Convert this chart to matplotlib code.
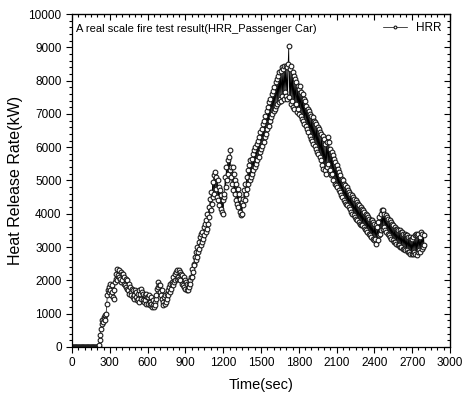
import matplotlib
matplotlib.use('Agg')
import matplotlib.pyplot as plt
from matplotlib.ticker import MultipleLocator
import numpy as np

# time step of the logged HRR samples (sec)
step = 5

hrr = [
    # 0 - 195
    0, 0, 0, 0, 0, 0, 0, 0, 0, 0, 0, 0, 0, 0, 0, 0, 0, 0, 0, 0,
    0, 0, 0, 0, 0, 0, 0, 0, 0, 0, 0, 0, 0, 0, 0, 0, 0, 0, 0, 0,
    # 200 - 295
    0, 0, 0, 50, 200, 350, 550, 700, 800, 750,
    900, 850, 950, 800, 1000, 1300, 1550, 1700, 1800, 1650,
    # 300 - 395
    1700, 1900, 1550, 1850, 1650, 1500, 1450, 1700, 1950, 2050,
    2200, 2000, 2350, 2150, 2100, 2300, 2050, 2250, 1950, 2200,
    # 400 - 495
    2000, 2200, 1900, 2100, 1850, 2050, 1800, 2000, 1750, 1700,
    1900, 1600, 1800, 1650, 1550, 1750, 1500, 1700, 1550, 1450,
    # 500 - 595
    1700, 1500, 1650, 1400, 1600, 1450, 1700, 1350, 1600, 1750,
    1450, 1650, 1400, 1600, 1350, 1550, 1400, 1600, 1300, 1500,
    # 600 - 695
    1500, 1300, 1550, 1350, 1250, 1500, 1300, 1200, 1400, 1250,
    1200, 1350, 1250, 1450, 1550, 1750, 1800, 1950, 1850, 1650,
    # 700 - 795
    1850, 1550, 1450, 1700, 1350, 1250, 1500, 1300, 1550, 1350,
    1600, 1450, 1700, 1550, 1800, 1650, 1900, 1750, 1950, 1900,
    # 800 - 895
    1850, 2100, 1950, 2200, 2000, 2250, 2050, 2300, 2100, 2300,
    2050, 2250, 2000, 2200, 1900, 2150, 1850, 2100, 1800, 2000,
    # 900 - 995
    1750, 1950, 1700, 1900, 1700, 1900, 1800, 2000, 1900, 2100,
    2100, 2350, 2250, 2500, 2450, 2700, 2600, 2850, 2700, 3000,
    # 1000 - 1095
    2850, 3150, 2950, 3300, 3050, 3400, 3150, 3450, 3250, 3600,
    3350, 3700, 3450, 3800, 3550, 4000, 3700, 4200, 3900, 4450,
    # 1100 - 1195
    4100, 4650, 4300, 4950, 4500, 5150, 4600, 5250, 4750, 5100,
    4500, 5000, 4400, 4800, 4250, 4700, 4150, 4550, 4050, 4400,
    # 1200 - 1295
    4000, 4500, 4600, 5100, 4800, 5400, 5000, 5600, 5200, 5700,
    5300, 5900, 5400, 5100, 4900, 5400, 4700, 5200, 4600, 5000,
    # 1300 - 1395
    4400, 4900, 4300, 4750, 4200, 4600, 4050, 4450, 3950, 4350,
    4000, 4450, 4250, 4700, 4400, 4900, 4600, 5100, 4750, 5300,
    # 1400 - 1495
    4900, 5450, 5000, 5600, 5100, 5650, 5200, 5800, 5300, 5900,
    5400, 6000, 5500, 6100, 5600, 6200, 5700, 6300, 5850, 6450,
    # 1500 - 1595
    5950, 6550, 6050, 6700, 6150, 6800, 6300, 6950, 6400, 7100,
    6550, 7200, 6650, 7350, 6800, 7450, 6900, 7600, 7000, 7700,
    # 1600 - 1695
    7100, 7800, 7150, 7950, 7250, 8050, 7300, 8150, 7350, 8250,
    7450, 8300, 7400, 8400, 7550, 8350, 7450, 8450, 7650, 8450,
    # 1700 - 1795
    7550, 8400, 7450, 8500, 9050, 7500, 8350, 7300, 8450, 7400,
    8250, 7200, 8150, 7150, 8050, 7300, 7950, 7050, 7850, 7150,
    # 1800 - 1895
    7750, 7000, 7850, 6950, 7650, 6850, 7600, 6800, 7450, 6700,
    7400, 6650, 7250, 6550, 7150, 6450, 7100, 6350, 7000, 6250,
    # 1900 - 1995
    6950, 6200, 6900, 6100, 6800, 6050, 6750, 5950, 6700, 5850,
    6600, 5800, 6550, 5700, 6450, 5600, 6400, 5450, 6350, 5350,
    # 2000 - 2095
    6250, 5300, 6100, 5200, 6150, 5400, 6300, 5500, 6150, 5300,
    5950, 5150, 5850, 5200, 5750, 5000, 5650, 4900, 5550, 4850,
    # 2100 - 2195
    5450, 4800, 5350, 4700, 5250, 4650, 5150, 4550, 5050, 4500,
    5000, 4400, 4900, 4350, 4850, 4300, 4800, 4250, 4700, 4200,
    # 2200 - 2295
    4650, 4150, 4600, 4050, 4550, 4000, 4500, 3950, 4450, 3900,
    4400, 3850, 4350, 3800, 4300, 3750, 4250, 3700, 4200, 3650,
    # 2300 - 2395
    4150, 3650, 4100, 3600, 4050, 3550, 4000, 3500, 3950, 3450,
    3900, 3400, 3850, 3350, 3800, 3300, 3800, 3250, 3750, 3200,
    # 2400 - 2495
    3700, 3250, 3650, 3100, 3600, 3200, 3750, 3350, 3900, 3400,
    4000, 3500, 4100, 3550, 4100, 3600, 4000, 3500, 3950, 3450,
    # 2500 - 2595
    3900, 3400, 3850, 3350, 3800, 3300, 3750, 3250, 3700, 3200,
    3650, 3150, 3600, 3150, 3550, 3100, 3550, 3050, 3500, 3050,
    # 2600 - 2695
    3500, 3000, 3450, 3000, 3450, 2950, 3400, 2950, 3400, 2900,
    3350, 2900, 3350, 2850, 3300, 2850, 3300, 2800, 3250, 2800,
    # 2700 - 2795
    3250, 2800, 3300, 2850, 3350, 2800, 3400, 2750, 3350, 2850,
    3400, 2900, 3300, 2850, 3450, 2950, 3400, 3000, 3350, 3050,
]

title = 'A real scale fire test result(HRR_Passenger Car)'


def main():
    plt.rcParams['font.family'] = ['Liberation Sans', 'DejaVu Sans']
    time = np.arange(len(hrr)) * step

    fig = plt.figure(figsize=(4.62, 4.01), dpi=100)
    ax = fig.add_axes([0.156, 0.135, 0.818, 0.830])

    ax.plot(time, hrr, color='black', lw=0.5, marker='o', ms=3.4,
            mfc='white', mec='#1a1a1a', mew=0.8, label='HRR')

    ax.set_xlim(0, 3000)
    ax.set_ylim(0, 10000)
    ax.xaxis.set_major_locator(MultipleLocator(300))
    ax.xaxis.set_minor_locator(MultipleLocator(50))
    ax.yaxis.set_major_locator(MultipleLocator(1000))
    ax.yaxis.set_minor_locator(MultipleLocator(200))
    ax.tick_params(which='both', direction='out', labelsize=8.5, width=0.8)
    ax.tick_params(which='major', length=4)
    ax.tick_params(which='minor', length=2)

    top = ax.secondary_xaxis('top')
    top.xaxis.set_major_locator(MultipleLocator(300))
    top.xaxis.set_minor_locator(MultipleLocator(50))
    top.tick_params(which='both', direction='in', labeltop=False, width=0.8)
    top.tick_params(which='major', length=4)
    top.tick_params(which='minor', length=2)

    right = ax.secondary_yaxis('right')
    right.yaxis.set_major_locator(MultipleLocator(1000))
    right.yaxis.set_minor_locator(MultipleLocator(200))
    right.tick_params(which='both', direction='in', labelright=False, width=0.8)
    right.tick_params(which='major', length=4)
    right.tick_params(which='minor', length=2)

    for s in ax.spines.values():
        s.set_linewidth(0.9)

    ax.set_xlabel('Time(sec)', fontsize=10.5, labelpad=6)
    ax.set_ylabel('Heat Release Rate(kW)', fontsize=11.5, labelpad=4)
    ax.text(0.01, 0.955, title, transform=ax.transAxes, fontsize=8,
            va='center', ha='left')

    ax.legend(loc='upper right', frameon=False, fontsize=8.5,
              handlelength=2.0, markerscale=0.6, borderaxespad=0.3)

    fig.savefig('out.png', dpi=100)


if __name__ == '__main__':
    main()
